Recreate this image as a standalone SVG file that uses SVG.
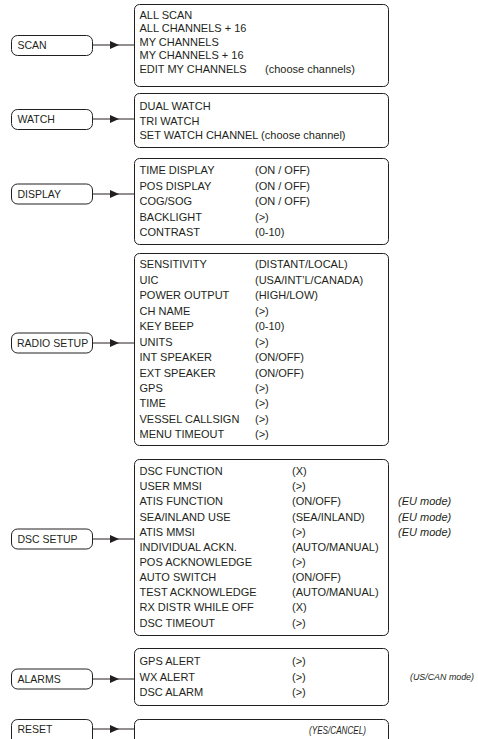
<svg xmlns="http://www.w3.org/2000/svg" width="478" height="739" viewBox="0 0 478 739">
<defs>
<style>
text{font-family:"Liberation Sans",Arial,sans-serif;font-size:11px;fill:#231f20}
.l{font-size:10.5px}
.i{font-style:italic}
.lb{fill:#fff;stroke:#231f20;stroke-width:1}
.rb{fill:#fff;stroke:#231f20;stroke-width:1}
.c{stroke:#231f20;stroke-width:1;fill:none}
</style>
<marker id="ah" markerWidth="9" markerHeight="8" refX="9" refY="4" orient="auto" markerUnits="userSpaceOnUse">
<path d="M0,0 L9,4 L0,8 Z" fill="#231f20"/>
</marker>
</defs>
<rect width="478" height="739" fill="#fff"/>

<g id="connectors">
<path class="c" d="M92,45 H119" marker-end="url(#ah)"/><path class="c" d="M119,45 H134"/>
<path class="c" d="M92,119 H119" marker-end="url(#ah)"/><path class="c" d="M119,119 H134"/>
<path class="c" d="M92,194 H119" marker-end="url(#ah)"/><path class="c" d="M119,194 H134"/>
<path class="c" d="M92,343 H119" marker-end="url(#ah)"/><path class="c" d="M119,343 H134"/>
<path class="c" d="M92,539 H119" marker-end="url(#ah)"/><path class="c" d="M119,539 H134"/>
<path class="c" d="M92,679 H119" marker-end="url(#ah)"/><path class="c" d="M119,679 H134"/>
<path class="c" d="M92,729 H119" marker-end="url(#ah)"/><path class="c" d="M119,729 H134"/>
</g>

<g id="scan">
<rect class="lb" x="11.5" y="35.5" width="81" height="20" rx="6"/>
<text class="l" x="17.5" y="49">SCAN</text>
</g>
<g id="scan-menu">
<rect class="rb" x="134.5" y="4.5" width="254" height="82" rx="5"/>
<text x="139.5" y="18.5">ALL SCAN</text>
<text x="139.5" y="32">ALL CHANNELS + 16</text>
<text x="139.5" y="45.5">MY CHANNELS</text>
<text x="139.5" y="59">MY CHANNELS + 16</text>
<text x="139.5" y="72.5">EDIT MY CHANNELS</text>
<text x="265" y="72.5">(choose channels)</text>
</g>

<g id="watch">
<rect class="lb" x="11.5" y="109.5" width="81" height="20" rx="6"/>
<text class="l" x="17.5" y="123">WATCH</text>
</g>
<g id="watch-menu">
<rect class="rb" x="134.5" y="93.5" width="254" height="54" rx="5"/>
<text x="139.5" y="109.5">DUAL WATCH</text>
<text x="139.5" y="124.5">TRI WATCH</text>
<text x="139.5" y="139">SET WATCH CHANNEL (choose channel)</text>
</g>

<g id="display">
<rect class="lb" x="11.5" y="184" width="81" height="20" rx="6"/>
<text class="l" x="17.5" y="198">DISPLAY</text>
</g>
<g id="display-menu">
<rect class="rb" x="134.5" y="158.5" width="254" height="86" rx="5"/>
<text x="139.5" y="174">TIME DISPLAY</text><text x="255" y="174">(ON / OFF)</text>
<text x="139.5" y="189.5">POS DISPLAY</text><text x="255" y="189.5">(ON / OFF)</text>
<text x="139.5" y="205">COG/SOG</text><text x="255" y="205">(ON / OFF)</text>
<text x="139.5" y="220.5">BACKLIGHT</text><text x="255" y="220.5">(&gt;)</text>
<text x="139.5" y="236">CONTRAST</text><text x="255" y="236">(0-10)</text>
</g>

<g id="radio-setup">
<rect class="lb" x="11.5" y="333" width="81" height="20" rx="6"/>
<text class="l" x="17" y="347">RADIO SETUP</text>
</g>
<g id="radio-menu">
<rect class="rb" x="134.5" y="253.5" width="254" height="192" rx="5"/>
<text x="139.5" y="268.3">SENSITIVITY</text><text x="255" y="268.3">(DISTANT/LOCAL)</text>
<text x="139.5" y="283.8">UIC</text><text x="255" y="283.8">(USA/INT’L/CANADA)</text>
<text x="139.5" y="299.2">POWER OUTPUT</text><text x="255" y="299.2">(HIGH/LOW)</text>
<text x="139.5" y="314.7">CH NAME</text><text x="255" y="314.7">(&gt;)</text>
<text x="139.5" y="330.1">KEY BEEP</text><text x="255" y="330.1">(0-10)</text>
<text x="139.5" y="345.6">UNITS</text><text x="255" y="345.6">(&gt;)</text>
<text x="139.5" y="361">INT SPEAKER</text><text x="255" y="361">(ON/OFF)</text>
<text x="139.5" y="376.5">EXT SPEAKER</text><text x="255" y="376.5">(ON/OFF)</text>
<text x="139.5" y="392">GPS</text><text x="255" y="392">(&gt;)</text>
<text x="139.5" y="407.4">TIME</text><text x="255" y="407.4">(&gt;)</text>
<text x="139.5" y="422.9">VESSEL CALLSIGN</text><text x="255" y="422.9">(&gt;)</text>
<text x="139.5" y="438.3">MENU TIMEOUT</text><text x="255" y="438.3">(&gt;)</text>
</g>

<g id="dsc-setup">
<rect class="lb" x="11.5" y="529" width="81" height="20" rx="6"/>
<text class="l" x="17.5" y="543">DSC SETUP</text>
</g>
<g id="dsc-menu">
<rect class="rb" x="134.5" y="459.5" width="254" height="176" rx="5"/>
<text x="139.5" y="475">DSC FUNCTION</text><text x="292" y="475">(X)</text>
<text x="139.5" y="490.2">USER MMSI</text><text x="292" y="490.2">(&gt;)</text>
<text x="139.5" y="505.3">ATIS FUNCTION</text><text x="292" y="505.3">(ON/OFF)</text>
<text x="139.5" y="520.5">SEA/INLAND USE</text><text x="292" y="520.5">(SEA/INLAND)</text>
<text x="139.5" y="535.6">ATIS MMSI</text><text x="292" y="535.6">(&gt;)</text>
<text x="139.5" y="550.8">INDIVIDUAL ACKN.</text><text x="292" y="550.8">(AUTO/MANUAL)</text>
<text x="139.5" y="565.9">POS ACKNOWLEDGE</text><text x="292" y="565.9">(&gt;)</text>
<text x="139.5" y="581">AUTO SWITCH</text><text x="292" y="581">(ON/OFF)</text>
<text x="139.5" y="596.2">TEST ACKNOWLEDGE</text><text x="292" y="596.2">(AUTO/MANUAL)</text>
<text x="139.5" y="611.4">RX DISTR WHILE OFF</text><text x="292" y="611.4">(X)</text>
<text x="139.5" y="626.5">DSC TIMEOUT</text><text x="292" y="626.5">(&gt;)</text>
</g>
<g id="dsc-notes">
<text class="i" x="398" y="505.3">(EU mode)</text>
<text class="i" x="398" y="520.5">(EU mode)</text>
<text class="i" x="398" y="535.6">(EU mode)</text>
</g>

<g id="alarms">
<rect class="lb" x="11.5" y="669" width="81" height="20" rx="6"/>
<text class="l" x="17.5" y="683">ALARMS</text>
</g>
<g id="alarms-menu">
<rect class="rb" x="134.5" y="648.5" width="254" height="57" rx="5"/>
<text x="139.5" y="665">GPS ALERT</text><text x="292" y="665">(&gt;)</text>
<text x="139.5" y="680.5">WX ALERT</text><text x="292" y="680.5">(&gt;)</text>
<text x="139.5" y="696">DSC ALARM</text><text x="292" y="696">(&gt;)</text>
</g>
<g id="alarms-note">
<text class="i" x="410" y="680" style="font-size:9.3px" textLength="64" lengthAdjust="spacingAndGlyphs">(US/CAN mode)</text>
</g>

<g id="reset">
<rect class="lb" x="11.5" y="719.5" width="81" height="30" rx="6"/>
<text class="l" x="17.5" y="733">RESET</text>
</g>
<g id="reset-menu">
<rect class="rb" x="134.5" y="719.5" width="254" height="30" rx="5"/>
<text class="i" x="309" y="734" style="font-size:10px" textLength="57" lengthAdjust="spacingAndGlyphs">(YES/CANCEL)</text>
</g>
</svg>
